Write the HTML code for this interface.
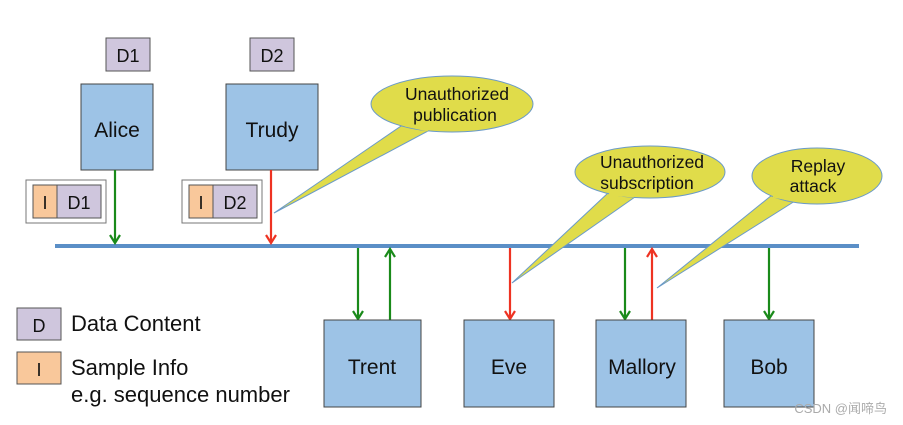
<!DOCTYPE html>
<html><head><meta charset="utf-8"><style>
html,body{margin:0;padding:0;background:#fff;}
svg{display:block;}
text{font-family:"Liberation Sans","Noto Sans CJK SC",sans-serif;}
</style></head><body>
<svg width="903" height="425" viewBox="0 0 903 425" xmlns="http://www.w3.org/2000/svg">
<rect x="55" y="244" width="804" height="4" fill="#5b8fc7"/>
<rect x="106" y="38" width="44" height="33" fill="#cfc6dd" stroke="#555" stroke-width="1"/>
<text x="128" y="62" font-size="18" text-anchor="middle" fill="#111">D1</text>
<rect x="250" y="38" width="44" height="33" fill="#cfc6dd" stroke="#555" stroke-width="1"/>
<text x="272" y="62" font-size="18" text-anchor="middle" fill="#111">D2</text>
<rect x="81" y="84" width="72" height="86" fill="#9dc3e6" stroke="#444" stroke-width="1"/>
<text x="117" y="137" font-size="21" text-anchor="middle" fill="#111">Alice</text>
<rect x="226" y="84" width="92" height="86" fill="#9dc3e6" stroke="#444" stroke-width="1"/>
<text x="272" y="137" font-size="21" text-anchor="middle" fill="#111">Trudy</text>
<rect x="26" y="180" width="80" height="43" fill="#fff" stroke="#777" stroke-width="1"/>
<rect x="33" y="185" width="24" height="33" fill="#f9c89b" stroke="#555"/>
<rect x="57" y="185" width="44" height="33" fill="#cfc6dd" stroke="#555"/>
<text x="45" y="209" font-size="18" text-anchor="middle" fill="#111">I</text>
<text x="79" y="209" font-size="18" text-anchor="middle" fill="#111">D1</text>
<rect x="182" y="180" width="80" height="43" fill="#fff" stroke="#777" stroke-width="1"/>
<rect x="189" y="185" width="24" height="33" fill="#f9c89b" stroke="#555"/>
<rect x="213" y="185" width="44" height="33" fill="#cfc6dd" stroke="#555"/>
<text x="201" y="209" font-size="18" text-anchor="middle" fill="#111">I</text>
<text x="235" y="209" font-size="18" text-anchor="middle" fill="#111">D2</text>
<g stroke-width="2.2" fill="none">
<line x1="115" y1="170" x2="115" y2="243" stroke="#1a8a1a"/><path d="M110,235 L115,243 L120,235" stroke="#1a8a1a"/>
<line x1="271" y1="170" x2="271" y2="243" stroke="#ee3322"/><path d="M266,235 L271,243 L276,235" stroke="#ee3322"/>
<line x1="358" y1="248" x2="358" y2="319" stroke="#1a8a1a"/><path d="M353,311 L358,319 L363,311" stroke="#1a8a1a"/>
<line x1="390" y1="320" x2="390" y2="249" stroke="#1a8a1a"/><path d="M385,257 L390,249 L395,257" stroke="#1a8a1a"/>
<line x1="510" y1="248" x2="510" y2="319" stroke="#ee3322"/><path d="M505,311 L510,319 L515,311" stroke="#ee3322"/>
<line x1="625" y1="248" x2="625" y2="319" stroke="#1a8a1a"/><path d="M620,311 L625,319 L630,311" stroke="#1a8a1a"/>
<line x1="652" y1="320" x2="652" y2="249" stroke="#ee3322"/><path d="M647,257 L652,249 L657,257" stroke="#ee3322"/>
<line x1="769" y1="248" x2="769" y2="319" stroke="#1a8a1a"/><path d="M764,311 L769,319 L774,311" stroke="#1a8a1a"/>
</g>
<g fill="#e0dc4a" stroke="#6a9ac8" stroke-width="1">
<path d="M404,124 L274,213 L428,131 Z"/>
<ellipse cx="452" cy="104" rx="81" ry="28"/>
<path d="M608,193 L512,283 L635,197 Z"/>
<ellipse cx="650" cy="172" rx="75" ry="26"/>
<path d="M772,195 L657,288 L795,201 Z"/>
<ellipse cx="817" cy="176" rx="65" ry="28"/>
</g>
<path d="M405,125 L428,130" stroke="#e0dc4a" stroke-width="3"/>
<path d="M609,194 L634,196" stroke="#e0dc4a" stroke-width="3"/>
<path d="M773,196 L794,200" stroke="#e0dc4a" stroke-width="3"/>
<g font-size="17.5" fill="#111" text-anchor="middle">
<text x="457" y="100">Unauthorized</text><text x="455" y="121">publication</text>
<text x="652" y="168">Unauthorized</text><text x="647" y="189">subscription</text>
<text x="818" y="172">Replay</text><text x="813" y="192">attack</text>
</g>
<g fill="#9dc3e6" stroke="#444" stroke-width="1">
<rect x="324" y="320" width="97" height="87"/>
<rect x="464" y="320" width="90" height="87"/>
<rect x="596" y="320" width="90" height="87"/>
<rect x="724" y="320" width="90" height="87"/>
</g>
<g font-size="21" fill="#111" text-anchor="middle">
<text x="372" y="374">Trent</text>
<text x="509" y="374">Eve</text>
<text x="642" y="374">Mallory</text>
<text x="769" y="374">Bob</text>
</g>
<rect x="17" y="308" width="44" height="32" fill="#cfc6dd" stroke="#555"/>
<text x="39" y="332" font-size="18" text-anchor="middle" fill="#111">D</text>
<rect x="17" y="352" width="44" height="32" fill="#f9c89b" stroke="#555"/>
<text x="39" y="376" font-size="18" text-anchor="middle" fill="#111">I</text>
<g font-size="22" fill="#111">
<text x="71" y="331">Data Content</text>
<text x="71" y="375">Sample Info</text>
<text x="71" y="402">e.g. sequence number</text>
</g>
<text x="887" y="413" font-size="13" fill="#aaa" text-anchor="end">CSDN @闻啼鸟</text>
</svg>
</body></html>
